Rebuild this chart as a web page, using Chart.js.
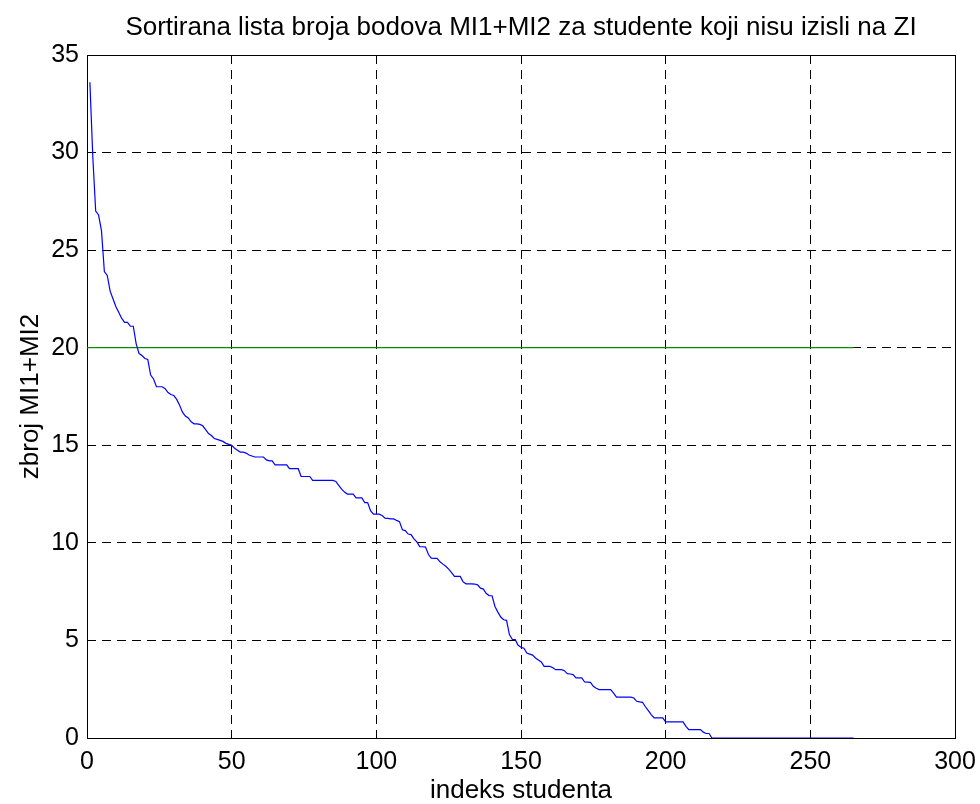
<!DOCTYPE html>
<html><head><meta charset="utf-8">
<script src="https://cdn.jsdelivr.net/npm/chart.js@4.4.0/dist/chart.umd.min.js"></script>
<style>html,body{margin:0;padding:0;background:#fff;}canvas{display:block;}</style>
</head><body>
<canvas id="c" width="980" height="804"></canvas>
<script>
// Sorted points MI1+MI2 per student (index 1..265)
const scores = [
  33.6, 29.8, 27.0, 26.8, 26.0, 23.9, 23.7, 22.9, 22.5, 22.1,
  21.8, 21.5, 21.3, 21.3, 21.1, 21.1, 20.2, 19.7, 19.6, 19.45,
  19.4, 18.6, 18.4, 18.0, 18.0, 18.0, 17.9, 17.7, 17.6, 17.55,
  17.35, 17.05, 16.7, 16.5, 16.4, 16.2, 16.1, 16.1, 16.07, 16.0,
  15.8, 15.6, 15.5, 15.35, 15.3, 15.25, 15.2, 15.1, 15.05, 15.0,
  14.85, 14.75, 14.65, 14.65, 14.6, 14.5, 14.45, 14.4, 14.4, 14.4,
  14.4, 14.25, 14.2, 14.2, 14.0, 14.0, 14.0, 14.0, 14.0, 13.8,
  13.8, 13.8, 13.8, 13.4, 13.4, 13.4, 13.4, 13.2, 13.2, 13.2,
  13.2, 13.2, 13.2, 13.2, 13.2, 13.15, 12.95, 12.75, 12.6, 12.5,
  12.5, 12.5, 12.3, 12.3, 12.3, 12.06, 12.06, 11.65, 11.47, 11.47,
  11.47, 11.4, 11.26, 11.25, 11.23, 11.23, 11.15, 11.09, 10.67, 10.63,
  10.45, 10.42, 10.2, 10.05, 9.81, 9.8, 9.78, 9.4, 9.22, 9.2,
  9.2, 9.03, 8.91, 8.8, 8.65, 8.48, 8.28, 8.28, 8.28, 8.0,
  7.9, 7.9, 7.9, 7.89, 7.85, 7.68, 7.63, 7.4, 7.3, 7.29,
  6.74, 6.45, 6.2, 6.06, 6.03, 5.3, 5.05, 5.04, 4.75, 4.65,
  4.6, 4.35, 4.3, 4.25, 4.1, 4.0, 3.9, 3.67, 3.67, 3.67,
  3.6, 3.5, 3.5, 3.5, 3.45, 3.3, 3.28, 3.25, 3.08, 3.08,
  3.08, 2.87, 2.86, 2.85, 2.65, 2.55, 2.48, 2.48, 2.48, 2.48,
  2.48, 2.3, 2.09, 2.09, 2.09, 2.09, 2.09, 2.09, 2.05, 1.88,
  1.85, 1.83, 1.6, 1.4, 1.2, 1.03, 1.03, 1.03, 1.03, 0.83,
  0.83, 0.83, 0.83, 0.83, 0.83, 0.83, 0.6, 0.43, 0.43, 0.43,
  0.43, 0.43, 0.3, 0.23, 0.23, 0, 0, 0, 0, 0,
  0, 0, 0, 0, 0, 0, 0, 0, 0, 0,
  0, 0, 0, 0, 0, 0, 0, 0, 0, 0,
  0, 0, 0, 0, 0, 0, 0, 0, 0, 0,
  0, 0, 0, 0, 0, 0, 0, 0, 0, 0,
  0, 0, 0, 0, 0
];
const thresholdX = [0, 265];
const thresholdY = [20, 20];
const xTicks = [0, 50, 100, 150, 200, 250, 300];
const yTicks = [0, 5, 10, 15, 20, 25, 30, 35];
const titleText = 'Sortirana lista broja bodova MI1+MI2 za studente koji nisu izisli na ZI';
const xLabel = 'indeks studenta';
const yLabel = 'zbroj MI1+MI2';

const FONT = '"Liberation Sans", Arial, Helvetica, sans-serif';

const framePlugin = {
  id: 'frame',
  beforeDatasetsDraw(chart) {
    const {ctx, chartArea: a} = chart;
    ctx.save();
    ctx.strokeStyle = '#000';
    ctx.lineWidth = 1;
    ctx.setLineDash([]);
    const l = Math.round(a.left) + 0.5, t = Math.round(a.top) + 0.5;
    const r = Math.round(a.right) + 0.5, b = Math.round(a.bottom) + 0.5;
    ctx.strokeRect(l, t, r - l, b - t);
    ctx.restore();
  },
  afterDraw(chart) {
    const {ctx, chartArea: a} = chart;
    ctx.save();
    ctx.fillStyle = '#000';
    ctx.font = '26px ' + FONT;
    ctx.textAlign = 'center';
    ctx.textBaseline = 'middle';
    ctx.fillText(titleText, (a.left + a.right) / 2, 28);
    ctx.restore();
  }
};

const mainData = scores.map((v, i) => ({x: i + 1, y: v}));
const thrData = thresholdX.map((x, i) => ({x: x, y: thresholdY[i]}));

new Chart(document.getElementById('c'), {
  type: 'scatter',
  data: {
    datasets: [
      {data: mainData, showLine: true, borderColor: '#0000ff', borderWidth: 1.2, pointRadius: 0, tension: 0, fill: false},
      {data: thrData, showLine: true, borderColor: '#009000', borderWidth: 1.3, pointRadius: 0, tension: 0, fill: false}
    ]
  },
  options: {
    responsive: false,
    devicePixelRatio: 1,
    animation: false,
    layout: {padding: {left: 0, right: 25, top: 55, bottom: 0}},
    plugins: {
      legend: {display: false},
      tooltip: {enabled: false},
      title: {display: false}
    },
    scales: {
      x: {
        type: 'linear', min: 0, max: 300,
        afterBuildTicks: s => { s.ticks = xTicks.map(v => ({value: v})); },
        afterFit: s => { s.height = 66; s.paddingLeft = 0; s.paddingRight = 0; },
        ticks: {color: '#000', font: {family: FONT, size: 25}, padding: 9, maxRotation: 0, autoSkip: false},
        grid: {color: '#000', lineWidth: 1, drawTicks: false},
        border: {display: false, dash: [9, 6]},
        title: {display: true, text: xLabel, color: '#000', font: {family: FONT, size: 26, lineHeight: 1.0}, padding: {top: 0, bottom: 0}}
      },
      y: {
        type: 'linear', min: 0, max: 35,
        afterBuildTicks: s => { s.ticks = yTicks.map(v => ({value: v})); },
        afterFit: s => { s.width = 87; s.paddingTop = 0; s.paddingBottom = 0; },
        ticks: {color: '#000', font: {family: FONT, size: 25}, padding: 8, autoSkip: false},
        grid: {color: '#000', lineWidth: 1, drawTicks: false},
        border: {display: false, dash: [9, 6]},
        title: {display: true, text: yLabel, color: '#000', font: {family: FONT, size: 26}, padding: {top: 15, bottom: 0}}
      }
    }
  },
  plugins: [framePlugin]
});
</script>
</body></html>
